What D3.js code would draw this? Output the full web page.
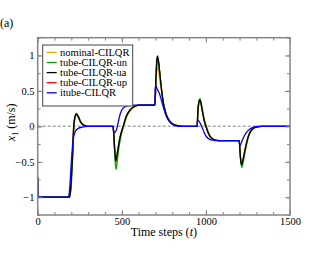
<!DOCTYPE html>
<html>
<head>
<meta charset="utf-8">
<script src="https://cdn.jsdelivr.net/npm/d3@7"></script>
<style>
  body { margin: 0; background: #fff; }
</style>
</head>
<body>
<div id="chart"></div>
<script>
// series: [time step, x1]
const nominal = [[0,-0.72],[2,-1],[189,-1],[196,-0.9],[206,-0.5],[215,0],[223,0.13],[231,0.16],[241,0.13],[256,0.06],[276,0.015],[301,0],
  [448,0],[452,-0.1],[458,-0.33],[465,-0.52],[471,-0.45],[478,-0.33],[493,-0.14],[510,0],[530,0.14],[550,0.22],[578,0.28],[610,0.3],
  [697,0.3],[702,0.55],[708,0.77],[714,0.82],[720,0.76],[729,0.6],[738,0.46],[748,0.33],[758,0.23],[772,0.13],[788,0.07],[807,0.03],[832,0.01],[862,0],
  [948,0],[952,0.18],[959,0.31],[965,0.33],[971,0.3],[982,0.18],[993,0.07],[1003,0],[1018,-0.1],[1033,-0.16],[1053,-0.19],[1078,-0.2],
  [1198,-0.2],[1203,-0.34],[1209,-0.48],[1214,-0.52],[1221,-0.46],[1237,-0.28],[1257,-0.11],[1277,-0.04],[1302,-0.01],[1332,0],[1500,0]];

const tubeUn = [[0,-0.72],[2,-1],[190,-1],[197,-0.9],[207,-0.5],[216,0],[224,0.14],[232,0.17],[242,0.14],[257,0.06],[277,0.015],[302,0],
  [448,0],[452,-0.12],[458,-0.4],[465,-0.61],[471,-0.53],[478,-0.38],[492,-0.17],[510,0],[530,0.15],[550,0.23],[577,0.28],[610,0.3],
  [697,0.3],[702,0.6],[708,0.86],[714,0.93],[720,0.87],[729,0.68],[738,0.5],[748,0.33],[758,0.22],[772,0.12],[788,0.065],[807,0.03],[832,0.01],[862,0],
  [948,0],[952,0.2],[959,0.36],[965,0.39],[971,0.34],[982,0.2],[992,0.08],[1002,0],[1017,-0.1],[1032,-0.16],[1052,-0.19],[1077,-0.2],
  [1198,-0.2],[1203,-0.37],[1209,-0.53],[1214,-0.58],[1221,-0.51],[1237,-0.31],[1257,-0.12],[1277,-0.04],[1302,-0.01],[1332,0],[1500,0]];

const tubeUa = [[0,-0.72],[2,-1],[188,-1],[195,-0.9],[205,-0.5],[214,0],[222,0.14],[230,0.18],[240,0.14],[255,0.06],[275,0.015],[300,0],
  [448,0],[452,-0.1],[458,-0.33],[464,-0.49],[470,-0.43],[477,-0.32],[490,-0.15],[508,0],[528,0.15],[548,0.23],[575,0.28],[607,0.3],
  [697,0.3],[702,0.62],[707,0.9],[712,0.995],[718,0.93],[727,0.72],[736,0.52],[746,0.34],[756,0.23],[770,0.13],[786,0.07],[805,0.03],[830,0.01],[860,0],
  [948,0],[952,0.2],[958,0.34],[964,0.376],[970,0.33],[980,0.2],[990,0.08],[1000,0],[1015,-0.1],[1030,-0.16],[1050,-0.19],[1075,-0.2],
  [1198,-0.2],[1203,-0.36],[1208,-0.5],[1213,-0.54],[1220,-0.48],[1235,-0.3],[1255,-0.12],[1275,-0.04],[1300,-0.01],[1330,0],[1500,0]];

// hidden under the black curve in the picture
const tubeUp = [[0,-0.72],[2,-1],[188,-1],[195,-0.9],[205,-0.5],[214,0],[222,0.14],[230,0.175],[240,0.14],[255,0.06],[275,0.015],[300,0],
  [448,0],[452,-0.1],[458,-0.33],[464,-0.48],[470,-0.42],[477,-0.32],[490,-0.15],[508,0],[528,0.15],[548,0.23],[575,0.28],[607,0.3],
  [697,0.3],[702,0.6],[707,0.88],[712,0.97],[718,0.91],[727,0.71],[736,0.52],[746,0.34],[756,0.23],[770,0.13],[786,0.07],[805,0.03],[830,0.01],[860,0],
  [948,0],[952,0.2],[958,0.33],[964,0.37],[970,0.33],[980,0.2],[990,0.08],[1000,0],[1015,-0.1],[1030,-0.16],[1050,-0.19],[1075,-0.2],
  [1198,-0.2],[1203,-0.36],[1208,-0.5],[1213,-0.53],[1220,-0.48],[1235,-0.3],[1255,-0.12],[1275,-0.04],[1300,-0.01],[1330,0],[1500,0]];

const itube = [[0,-0.72],[2,-1],[183,-1],[190,-0.88],[200,-0.5],[210,-0.2],[222,-0.08],[240,-0.03],[265,-0.01],[300,0],
  [448,0],[452,-0.07],[458,-0.09],[468,-0.05],[478,0.05],[490,0.17],[500,0.23],[515,0.27],[535,0.29],[560,0.3],
  [697,0.3],[699,0.55],[702,0.58],[708,0.54],[716,0.5],[724,0.46],[734,0.38],[746,0.28],[760,0.17],[776,0.09],[795,0.035],[815,0.01],[840,0],
  [948,0],[950,0.07],[954,0.085],[962,0.06],[972,0.015],[980,-0.03],[992,-0.1],[1005,-0.15],[1020,-0.18],[1040,-0.195],[1060,-0.2],
  [1198,-0.2],[1200,-0.25],[1204,-0.27],[1212,-0.22],[1225,-0.15],[1240,-0.09],[1260,-0.04],[1280,-0.015],[1300,0],[1500,0]];

const seriesNames = ["nominal-CILQR", "tube-CILQR-un", "tube-CILQR-ua", "tube-CILQR-up", "itube-CILQR"];
const seriesColors = ["#ffa500", "#00a000", "#000000", "#ff0000", "#0000ff"];
const seriesData = [nominal, tubeUn, tubeUa, tubeUp, itube];
const drawOrder = [3, 0, 1, 2, 4];

const xTicks = [0, 500, 1000, 1500];
const yTicks = [-1, -0.5, 0, 0.5, 1];

const serif = "'Liberation Serif', 'Times New Roman', Times, 'DejaVu Serif', serif";
const width = 329, height = 254;
const svg = d3.select("#chart").append("svg")
  .attr("width", width)
  .attr("height", height)
  .attr("font-family", serif);

const x = d3.scaleLinear().domain([0, 1500]).range([37.7, 290]);
const y = d3.scaleLinear().domain([-1.25, 1.25]).range([215, 37.7]);

const frameColor = "#858585";

// zero reference line
svg.append("line")
  .attr("x1", x(0)).attr("x2", x(1500))
  .attr("y1", y(0)).attr("y2", y(0))
  .attr("stroke", "#aaaaaa")
  .attr("stroke-width", 1.5)
  .attr("stroke-dasharray", "3,2");

// curves
const line = d3.line()
  .x(d => x(d[0]))
  .y(d => y(d[1]))
  .curve(d3.curveMonotoneX);

drawOrder.forEach(i => {
  svg.append("path")
    .datum(seriesData[i])
    .attr("fill", "none")
    .attr("stroke", seriesColors[i])
    .attr("stroke-width", 1.3)
    .attr("stroke-linejoin", "round")
    .attr("d", line);
});

// frame and inward ticks on all sides
const xMinor = d3.range(0, 1501, 100);
const yMinor = d3.range(-1.25, 1.26, 0.25);

function styleTicks(g) {
  g.attr("font-family", serif);
  g.selectAll("path").remove();
  g.selectAll("line").attr("stroke", frameColor).attr("stroke-width", 1);
}

const axes = [
  {gen: d3.axisBottom(x), t: `translate(0,${y(-1.25)})`},
  {gen: d3.axisTop(x), t: `translate(0,${y(1.25)})`},
  {gen: d3.axisLeft(y), t: `translate(${x(0)},0)`},
  {gen: d3.axisRight(y), t: `translate(${x(1500)},0)`}
];
axes.forEach((a, k) => {
  const isX = k < 2;
  svg.append("g").attr("transform", a.t)
    .call(a.gen.tickValues(isX ? xMinor : yMinor).tickSize(-3).tickFormat(""))
    .call(styleTicks);
  const g = svg.append("g").attr("transform", a.t)
    .call(a.gen.tickValues(isX ? xTicks : yTicks).tickSize(-5).tickPadding(k === 0 ? 2.5 : 3.2)
      .tickFormat(k === 0 ? d3.format("d") : (k === 2 ? d3.format("") : "")))
    .call(styleTicks);
  g.selectAll("text")
    .attr("fill", "#000")
    .attr("font-size", 10.5)
    .attr("font-family", serif);
});

svg.append("rect")
  .attr("x", x(0)).attr("y", y(1.25))
  .attr("width", x(1500) - x(0))
  .attr("height", y(-1.25) - y(1.25))
  .attr("fill", "none")
  .attr("stroke", frameColor)
  .attr("stroke-width", 1.5);

// axis labels
svg.append("text")
  .attr("x", (x(0) + x(1500)) / 2)
  .attr("y", 236)
  .attr("text-anchor", "middle")
  .attr("font-size", 12)
  .attr("font-family", serif)
  .html('Time steps (<tspan font-style="italic">t</tspan>)');

svg.append("text")
  .attr("transform", `translate(14.5,${y(0) - 4}) rotate(-90)`)
  .attr("text-anchor", "middle")
  .attr("font-size", 12)
  .attr("font-family", serif)
  .html('<tspan font-style="italic">x</tspan><tspan font-size="8" dy="3">1</tspan><tspan dy="-3"> (m/s)</tspan>');

svg.append("text")
  .attr("x", 0)
  .attr("y", 27)
  .attr("font-size", 12)
  .attr("font-family", serif)
  .text("(a)");

// legend
const legend = svg.append("g");
legend.append("rect")
  .attr("x", 42.7).attr("y", 45)
  .attr("width", 90).attr("height", 61)
  .attr("fill", "#fff")
  .attr("stroke", "#444")
  .attr("stroke-width", 1);

seriesNames.forEach((name, i) => {
  const ly = 52.4 + i * 10.1;
  legend.append("line")
    .attr("x1", 46.7).attr("x2", 56.7)
    .attr("y1", ly).attr("y2", ly)
    .attr("stroke", seriesColors[i])
    .attr("stroke-width", 1.3);
  legend.append("text")
    .attr("x", 60)
    .attr("y", ly + 3.6)
    .attr("font-size", 10.5)
    .attr("font-family", serif)
    .text(name);
});
</script>
</body>
</html>
